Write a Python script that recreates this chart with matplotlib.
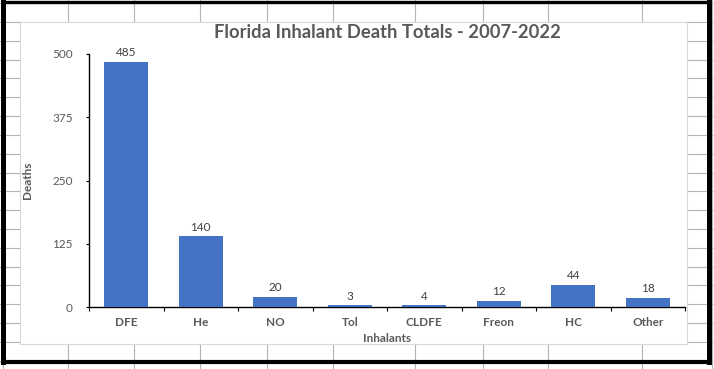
import matplotlib
matplotlib.use("Agg")
import matplotlib.pyplot as plt
from matplotlib.lines import Line2D
from matplotlib.patches import Rectangle

categories = ["DFE", "He", "NO", "Tol", "CLDFE", "Freon", "HC", "Other"]
deaths = [485, 140, 20, 3, 4, 12, 44, 18]
y_ticks = [0, 125, 250, 375, 500]

W, H = 714, 369
plt.rcParams['font.family'] = ['Lato', 'DejaVu Sans']
fig = plt.figure(figsize=(W / 100, H / 100), dpi=100)
fig.patch.set_facecolor("white")

def fx(x):
    return x / W

def fy(y):
    return (H - y) / H

grid_c = "#b4b4b4"
# spreadsheet gridlines
for k in range(-1, 19):
    yp = 22 + 18.82 * k
    fig.add_artist(Line2D([0, 1], [fy(yp), fy(yp)], color=grid_c, lw=0.8, zorder=0))
for xp in [3, 68, 134, 200, 267, 333, 415, 483, 548, 642, 712]:
    fig.add_artist(Line2D([fx(xp), fx(xp)], [0, 1], color=grid_c, lw=0.8, zorder=0))

# chart area
fig.add_artist(Rectangle((fx(20), fy(344)), fx(687) - fx(20), fy(22) - fy(344),
                         facecolor="white", edgecolor="#d9d9d9", lw=0.8, zorder=1))

# black frame
bk = dict(color="black", zorder=5, solid_capstyle="projecting")
fig.add_artist(Line2D([fx(3), fx(3)], [fy(2), fy(361.5)], lw=3.6, **bk))
fig.add_artist(Line2D([fx(709), fx(709)], [fy(2), fy(361.5)], lw=3.6, **bk))
fig.add_artist(Line2D([fx(3), fx(709)], [fy(2), fy(2)], lw=2.4, **bk))
fig.add_artist(Line2D([fx(3), fx(709)], [fy(361.5), fy(361.5)], lw=3.0, **bk))

ax_top, ax_bot = 54, 307
ax = fig.add_axes([fx(89), fy(ax_bot), fx(685) - fx(89), fy(ax_top) - fy(ax_bot)], zorder=2)
ax.set_facecolor("none")
x = list(range(len(categories)))
bars = ax.bar(x, deaths, width=0.59, color="#4472C4", zorder=3)
ax.set_xlim(-0.5, len(categories) - 0.5)
ax.set_ylim(0, 500)

for s in ["top", "right"]:
    ax.spines[s].set_visible(False)
for s in ["left", "bottom"]:
    ax.spines[s].set_color("black")
    ax.spines[s].set_linewidth(1.0)

tc = "#595959"
ax.set_yticks(y_ticks)
ax.set_yticklabels([str(v) for v in y_ticks])
ax.tick_params(axis="y", direction="out", length=2.2, width=0.8, pad=9.5,
               labelsize=8.5, labelcolor=tc, color="black")
ax.set_xticks(x)
ax.set_xticklabels(categories, fontweight="bold")
ax.tick_params(axis="x", which="major", length=0, pad=7, labelsize=8.5, labelcolor=tc)
ax.set_xticks([i - 0.5 for i in range(len(categories) + 1)], minor=True)
ax.tick_params(axis="x", which="minor", direction="out", length=3, width=0.8, color="black")

ax.bar_label(bars, labels=[str(v) for v in deaths], padding=2.5, fontsize=8.5, color="#404040")

h_ax = ax_bot - ax_top
ax.set_title("Florida Inhalant Death Totals - 2007-2022", fontsize=13.2,
             fontweight="bold", color=tc, pad=0, y=1 + (ax_top - 32.5) / h_ax, va="center")

ax.set_xlabel("Inhalants", fontsize=8.5, fontweight="bold", color=tc)
ax.xaxis.set_label_coords(0.5, (ax_bot - 338) / h_ax)
ax.xaxis.label.set_va("center")
ax.set_ylabel("Deaths", fontsize=8.5, fontweight="bold", color=tc)
ax.yaxis.set_label_coords((28 - 89) / (685 - 89), (ax_bot - 180) / h_ax)
ax.yaxis.label.set_va("center")
ax.yaxis.label.set_rotation_mode("default")

fig.savefig("out.png", dpi=100)
